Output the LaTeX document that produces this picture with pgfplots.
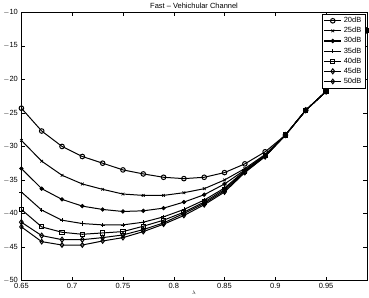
\documentclass[border=0pt]{standalone}
\usepackage{pgfplots}
\usepackage{pgfplotstable}
\pgfplotsset{compat=1.18}
\usepackage{fontspec}
\setmainfont{Liberation Sans}
\pgfplotstableread{
x a b c d e f g
0.65 -24.3 -29.1 -33.3 -36.8 -39.4 -41.3 -42.0
0.67 -27.7 -32.2 -36.3 -39.5 -42.0 -43.3 -44.2
0.69 -30.0 -34.3 -37.9 -41.0 -42.8 -43.9 -44.7
0.71 -31.5 -35.6 -38.9 -41.5 -43.1 -43.9 -44.7
0.73 -32.5 -36.4 -39.4 -41.7 -42.9 -43.6 -44.1
0.75 -33.5 -37.1 -39.7 -41.7 -42.7 -43.2 -43.6
0.77 -34.1 -37.3 -39.6 -41.3 -41.9 -42.4 -42.7
0.79 -34.6 -37.3 -39.2 -40.5 -41.0 -41.4 -41.6
0.81 -34.8 -36.9 -38.3 -39.4 -39.8 -40.0 -40.3
0.83 -34.6 -36.3 -37.2 -38.0 -38.3 -38.5 -38.7
0.85 -33.9 -35.0 -35.6 -36.2 -36.4 -36.6 -36.8
0.87 -32.6 -33.3 -33.5 -33.6 -33.7 -33.8 -33.9
0.89 -30.8 -31.2 -31.3 -31.4 -31.4 -31.5 -31.5
0.91 -28.3 -28.3 -28.3 -28.3 -28.3 -28.3 -28.3
0.93 -24.6 -24.6 -24.6 -24.6 -24.6 -24.6 -24.6
0.95 -21.8 -21.8 -21.8 -21.8 -21.8 -21.8 -21.8
0.97 -17.5 -17.5 -17.5 -17.5 -17.5 -17.5 -17.5
0.99 -12.7 -12.7 -12.7 -12.7 -12.7 -12.7 -12.7
}\data
\begin{document}
\begin{tikzpicture}
\begin{axis}[
  scale only axis,
  width=345bp, height=268bp,
  xmin=0.65, xmax=0.99, ymin=-50, ymax=-10,
  xtick={0.65,0.7,0.75,0.8,0.85,0.9,0.95},
  xticklabels={0.65,0.7,0.75,0.8,0.85,0.9,0.95},
  ytick={-50,-45,-40,-35,-30,-25,-20,-15,-10},
  yticklabels={$-$50,$-$45,$-$40,$-$35,$-$30,$-$25,$-$20,$-$15,$-$10},
  tick align=inside, tick pos=both,
  major tick length=3.5bp,
  tick style={black, line width=0.4pt},
  ticklabel style={font=\fontsize{7.5}{8}\selectfont},
  xticklabel style={yshift=1bp},
  title={Fast -- Vehichular Channel},
  title style={font=\fontsize{7.5}{8}\selectfont, yshift=-6bp},
  xlabel={$\lambda$},
  xlabel style={font=\fontsize{5.5}{6}\selectfont, yshift=4bp},
  ylabel={MSE},
  ylabel style={font=\fontsize{5.5}{6}\selectfont, overlay, yshift=-3bp},
  every axis plot/.append style={black, line width=1pt, mark size=2.3pt, mark options={solid, line width=0.7pt}},
  legend style={at={(0.995,0.995)}, anchor=north east, font=\fontsize{7.5}{8}\selectfont, draw=black, line width=0.4pt, inner sep=1.5pt, row sep=-0.8pt, legend cell align=left},
  legend image code/.code={\draw[#1, line width=1.1pt] (0cm,0cm) -- (0.6cm,0cm); \draw[#1, mark repeat=2, mark phase=2] plot coordinates {(0cm,0cm) (0.3cm,0cm) (0.6cm,0cm)};},
]
\addplot[mark=o, mark options={fill=white}] table[x=x,y=a] {\data};
\addlegendentry{20dB}
\addplot[mark=x, mark size=1.9pt] table[x=x,y=b] {\data};
\addlegendentry{25dB}
\addplot[mark=*, mark size=1.8pt] table[x=x,y=c] {\data};
\addlegendentry{30dB}
\addplot[mark=+, mark size=2.1pt] table[x=x,y=d] {\data};
\addlegendentry{35dB}
\addplot[mark=square, mark size=2.1pt, mark options={fill=white}] table[x=x,y=e] {\data};
\addlegendentry{40dB}
\addplot[mark=diamond, mark size=2.5pt, mark options={fill=white}] table[x=x,y=f] {\data};
\addlegendentry{45dB}
\addplot[mark=diamond, mark size=2.3pt, mark options={fill=white}] table[x=x,y=g] {\data};
\addlegendentry{50dB}
\end{axis}
\end{tikzpicture}
\end{document}
